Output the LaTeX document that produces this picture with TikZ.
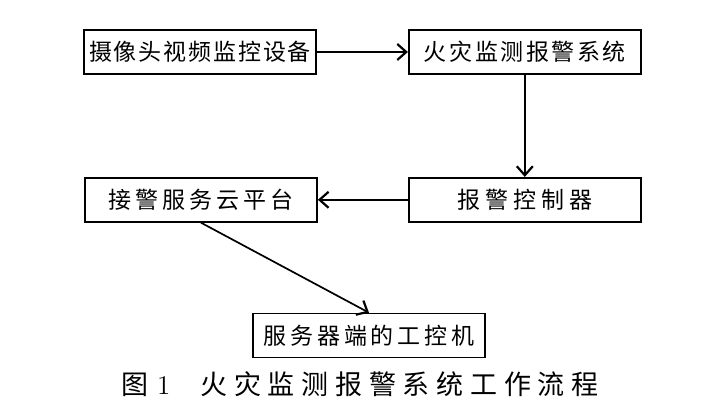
\documentclass[tikz,border=0pt]{standalone}
\usepackage{fontspec}
\usepackage{tikz}
\usetikzlibrary{positioning}
\usetikzlibrary{arrows.meta}
\newfontfamily\cjk{Noto Sans CJK SC}
\newfontfamily\cjkcap{Noto Sans CJK SC}[LetterSpace=25]

\begin{document}
\begin{tikzpicture}[>={Straight Barb[length=4.5pt,width=8pt,line width=1.1pt]},
    every node/.style = {inner sep=0pt},
    flowbox/.style = {draw, line width=.9pt, minimum width=116pt, minimum height=22pt,
      font=\cjk\fontsize{11.5}{13}\selectfont\addfontfeature{LetterSpace=#1}},
    link/.style = {->, line width=.85pt}
    ]
    \useasboundingbox (0,0) rectangle (359pt,-205.5pt);
    \node[flowbox=8] (camera) at (100pt,-26pt) {摄像头视频监控设备};
    \node[flowbox=11] (alarmsys) [right=45.5pt of camera] {火灾监测报警系统};
    \node[flowbox=22] (ctrl) [below=51pt of alarmsys] {报警控制器};
    \node[flowbox=18] (cloud) [left=45pt of ctrl] {接警服务云平台};
    \node[flowbox=17] (ipc) [below=45pt of cloud, xshift=84pt] {服务器端的工控机};
    \node[font=\fontsize{13.5}{15}\selectfont] (caption) at (180pt,-192pt)
      {{\cjkcap 图} 1\hspace{15pt}{\cjkcap 火灾监测报警系统工作流程}};

    \draw[link] (camera) -- (alarmsys);
    \draw[link] (alarmsys) -- (ctrl);
    \draw[link] (ctrl) -- (cloud);
    \draw[link] (cloud.south) -- (ipc.north);
\end{tikzpicture}
\end{document}
